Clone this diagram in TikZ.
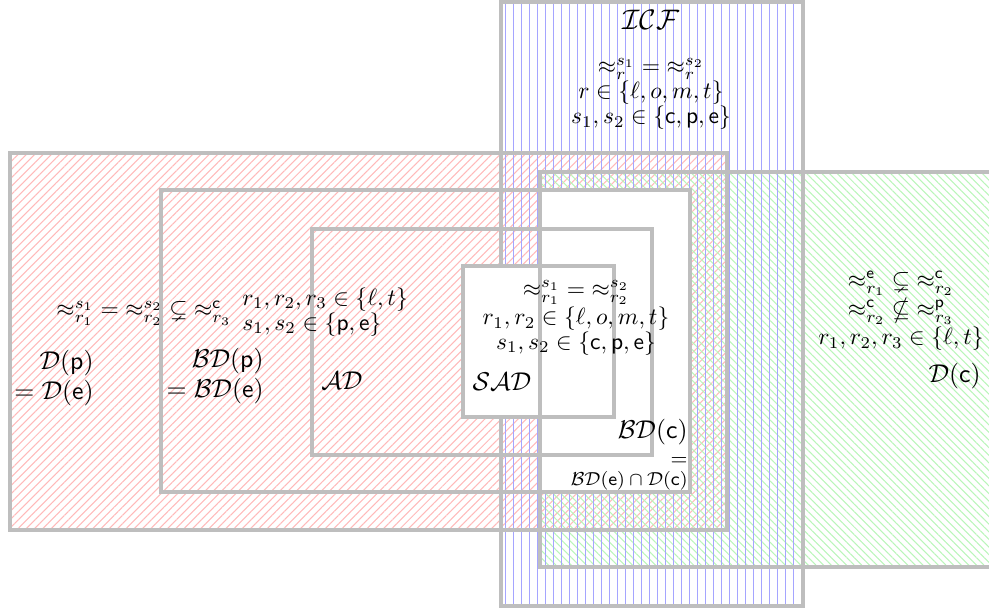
\documentclass[tikz,border=0pt]{standalone}
\usepackage{amsmath,amssymb}
\usetikzlibrary{patterns.meta}
\definecolor{boxgray}{RGB}{190,190,190}
\definecolor{pblue}{RGB}{165,165,255}
\definecolor{pred}{RGB}{255,185,185}
\definecolor{pgreen}{RGB}{185,245,185}
\newcommand{\apx}{{\approx}}
\begin{document}
\begin{tikzpicture}[x=0.4255pt,y=-0.4255pt,
  frame/.style={draw=boxgray,line width=1.3pt},
  formula/.style={font=\fontsize{10}{10.6}\selectfont,align=center,inner sep=0pt},
  biglabel/.style={font=\fontsize{10.95}{12.4}\selectfont,inner sep=0pt},
  redfill/.style={pattern={Lines[angle=45,distance=2.5pt,line width=0.45pt]},pattern color=pred},
  greenfill/.style={pattern={Lines[angle=-45,distance=2.3pt,line width=0.45pt]},pattern color=pgreen},
  blueline/.style={fill=pblue}]
\useasboundingbox (0,0) rectangle (989,613);
\clip (0,0) rectangle (989,613);
% pattern fills
\fill[redfill] (10,153) rectangle (727,530);
\fill[greenfill] (540,172) rectangle (995,567);
\foreach \i in {0,...,37} {
  \path[blueline] ({505+8*\i},2) rectangle ({506.1+8*\i},606);
}
% white region BD(c) = BD(e) cap D(c)
\fill[white] (540,190) rectangle (690,492);
% frames
\draw[frame] (10,153) rectangle (727,530);
\draw[frame] (501,2) rectangle (803,606);
\draw[frame] (161,190) rectangle (690,492);
\draw[frame] (312,229) rectangle (652,455);
\draw[frame,fill=white] (463,266) rectangle (614,417);
\draw[frame] (540,172) rectangle (995,567);
% texts
\node[font=\fontsize{12}{14}\selectfont,inner sep=0pt] (icf) at (651,20) {$\mathcal{ICF}$};
\node[formula] (icfrule) at (651,94) {$\apx_r^{s_1} = \apx_r^{s_2}$\\ $r\in\{\ell,o,m,t\}$\\ $s_1,s_2\in\{\mathsf{c},\mathsf{p},\mathsf{e}\}$};
\node[formula] (leftrule) at (144,313) {$\apx^{s_1}_{r_1} = \apx^{s_2}_{r_2} \subsetneq \apx^{\mathsf{c}}_{r_3}$};
\node[formula,align=left,anchor=west] (leftdom) at (242,312) {$r_1,r_2,r_3\in\{\ell,t\}$\\ $s_1,s_2\in\{\mathsf{p},\mathsf{e}\}$};
\node[biglabel,align=right,anchor=east] (dp) at (94,378) {$\mathcal{D}(\mathsf{p})$\\ $=\mathcal{D}(\mathsf{e})$};
\node[biglabel,align=right,anchor=east] (bdp) at (264,376) {$\mathcal{BD}(\mathsf{p})$\\ $=\mathcal{BD}(\mathsf{e})$};
\node[biglabel] (ad) at (342,381) {$\mathcal{AD}$};
\node[biglabel] (sad) at (502,382) {$\mathcal{SAD}$};
\node[formula] (sadrule) at (576,318) {$\apx^{s_1}_{r_1} = \apx^{s_2}_{r_2}$\\ $r_1,r_2\in\{\ell,o,m,t\}$\\ $s_1,s_2\in\{\mathsf{c},\mathsf{p},\mathsf{e}\}$};
\node[biglabel,align=right,anchor=north east] (bdc) at (688,419) {$\mathcal{BD}(\mathsf{c})$\\[-1pt] {\fontsize{9}{9}\selectfont$=$}\\[-4pt] {\fontsize{8.5}{9}\selectfont$\mathcal{BD}(\mathsf{e})\cap\mathcal{D}(\mathsf{c})$}};
\node[formula] (dcrule) at (901,311) {$\apx^{\mathsf{e}}_{r_1}\subsetneq\apx^{\mathsf{c}}_{r_2}$\\ $\apx^{\mathsf{c}}_{r_2}\nsubseteq\apx^{\mathsf{p}}_{r_3}$\\ $r_1,r_2,r_3\in\{\ell,t\}$};
\node[biglabel,anchor=east] (dc) at (981,376) {$\mathcal{D}(\mathsf{c})$};
\end{tikzpicture}
\end{document}
